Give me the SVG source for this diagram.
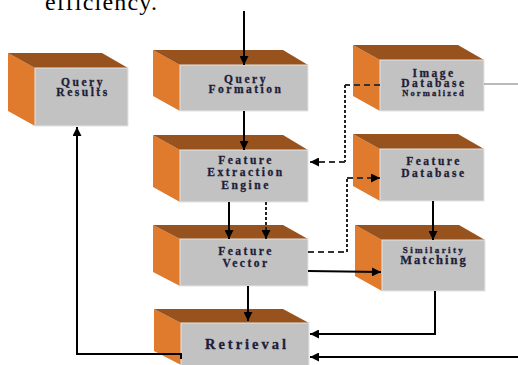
<svg xmlns="http://www.w3.org/2000/svg" width="518" height="365" viewBox="0 0 518 365">
<defs>
<style>
.side{fill:#e07a2c}
.top{fill:#97521e}
.front{fill:#c2c2c2;stroke:#e4e4e4;stroke-width:1}
.t{font-family:"Liberation Serif","Times New Roman",serif;font-weight:bold;fill:#1e1e3a;stroke:#1e1e3a;stroke-width:0.3;text-anchor:middle;font-size:11.5px;letter-spacing:2.5px}
.ln{fill:none;stroke:#000;stroke-width:2}
.dash{fill:none;stroke:#333;stroke-width:2;stroke-dasharray:6 4}
.dot{fill:none;stroke:#222;stroke-width:2;stroke-dasharray:3 2}
</style>
<marker id="ah" viewBox="0 0 10 10" refX="10" refY="5" markerWidth="10" markerHeight="9" markerUnits="userSpaceOnUse" orient="auto">
<path d="M0,0 L10,5 L0,10 Z" fill="#000"/>
</marker>
</defs>
<rect width="518" height="365" fill="#fff"/>
<text x="45" y="10" font-family="Liberation Serif,serif" font-size="24" textLength="112" fill="#000">efficiency.</text>

<g id="query-results">
<polygon class="side" points="8,53 35,68 35,126 8,111"/>
<polygon class="top" points="8,53 102,53 128,68 35,68"/>
<rect class="front" x="35" y="68" width="93" height="58"/>
<text class="t" x="83" y="86">Query</text>
<text class="t" x="83" y="96">Results</text>
</g>

<g id="query-formation">
<polygon class="side" points="153,50 180,65 180,111 153,96"/>
<polygon class="top" points="153,50 283,50 308,65 180,65"/>
<rect class="front" x="180" y="65" width="128" height="46"/>
<text class="t" x="246" y="83">Query</text>
<text class="t" x="246" y="93">Formation</text>
</g>

<g id="image-database">
<polygon class="side" points="353,45 380,60 380,111 353,96"/>
<polygon class="top" points="353,45 458,45 484,60 380,60"/>
<rect class="front" x="380" y="60" width="104" height="51"/>
<text class="t" x="434" y="77">Image</text>
<text class="t" x="434" y="87">Database</text>
<text class="t" x="434" y="96" style="font-size:8.5px;letter-spacing:2.1px">Normalized</text>
</g>

<g id="feature-extraction-engine">
<polygon class="side" points="153,135 180,150 180,202 153,187"/>
<polygon class="top" points="153,135 283,135 308,150 180,150"/>
<rect class="front" x="180" y="150" width="128" height="52"/>
<text class="t" x="246" y="164">Feature</text>
<text class="t" x="246" y="176">Extraction</text>
<text class="t" x="246" y="189">Engine</text>
</g>

<g id="feature-database">
<polygon class="side" points="353,134 380,149 380,201 353,186"/>
<polygon class="top" points="353,134 458,134 484,149 380,149"/>
<rect class="front" x="380" y="149" width="104" height="52"/>
<text class="t" x="434" y="165">Feature</text>
<text class="t" x="434" y="177">Database</text>
</g>

<g id="feature-vector">
<polygon class="side" points="153,225 180,239 180,286 153,272"/>
<polygon class="top" points="153,225 283,225 308,239 180,239"/>
<rect class="front" x="180" y="239" width="128" height="47"/>
<text class="t" x="246" y="255">Feature</text>
<text class="t" x="246" y="267">Vector</text>
</g>

<g id="similarity-matching">
<polygon class="side" points="355,225 382,240 382,291 355,276"/>
<polygon class="top" points="355,225 459,225 485,240 382,240"/>
<rect class="front" x="382" y="240" width="103" height="51"/>
<text class="t" x="434" y="253" style="font-size:9px;letter-spacing:2.4px">Similarity</text>
<text class="t" x="434" y="264" style="font-size:12.5px;letter-spacing:2px">Matching</text>
</g>

<g id="retrieval">
<polygon class="side" points="154,309 181,323 181,365 154,351"/>
<polygon class="top" points="154,309 283,309 309,323 181,323"/>
<rect class="front" x="181" y="323" width="128" height="44"/>
<text class="t" x="247" y="349" style="font-size:14.5px;letter-spacing:3px">Retrieval</text>
</g>

<g id="connectors">
<line class="ln" x1="244" y1="11" x2="244" y2="65" marker-end="url(#ah)"/>
<line class="ln" x1="244" y1="111" x2="244" y2="150" marker-end="url(#ah)"/>
<polyline class="dash" points="380,85 345,85"/>
<polyline class="dot" points="345,85 345,162"/>
<polyline class="dash" points="345,162 310,162" marker-end="url(#ah)"/>
<polyline class="dash" points="308,252 347,252"/>
<polyline class="dot" points="347,252 347,178"/>
<polyline class="dash" points="347,178 380,178" marker-end="url(#ah)"/>
<line class="ln" x1="433" y1="201" x2="433" y2="240" marker-end="url(#ah)"/>
<line class="ln" x1="229" y1="202" x2="229" y2="239" marker-end="url(#ah)"/>
<line class="dot" x1="266" y1="202" x2="266" y2="239" marker-end="url(#ah)"/>
<line class="ln" x1="308" y1="271" x2="381" y2="272" marker-end="url(#ah)"/>
<line class="ln" x1="248" y1="286" x2="248" y2="321" marker-end="url(#ah)"/>
<polyline class="ln" points="435,291 435,334 310,334" marker-end="url(#ah)"/>
<line class="ln" x1="518" y1="357" x2="310" y2="357" marker-end="url(#ah)"/>
<polyline class="ln" points="181,359 181,354 77,354 77,127" marker-end="url(#ah)"/>
<line x1="484" y1="84" x2="518" y2="84" stroke="#777" stroke-width="1"/>
</g>
</svg>
